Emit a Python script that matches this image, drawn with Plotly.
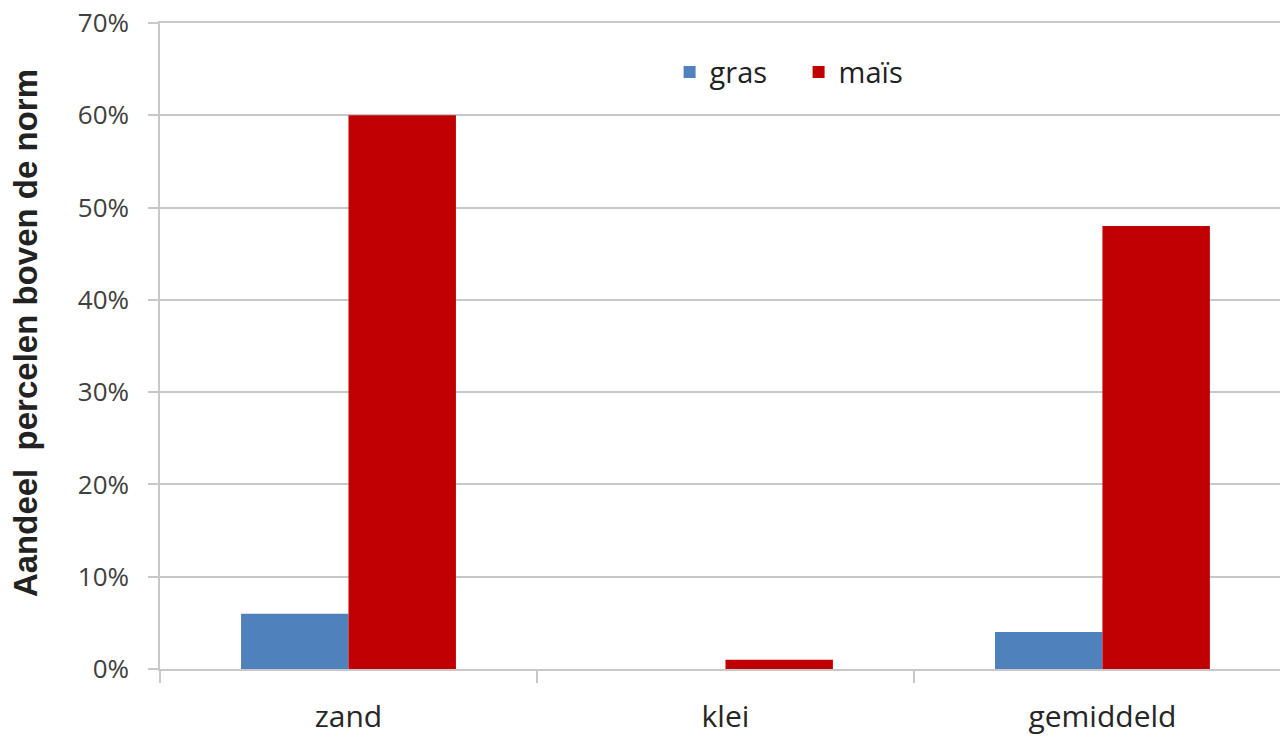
import plotly.graph_objects as go

categories = ["zand", "klei", "gemiddeld"]
gras = [0.06, 0.0, 0.04]
mais = [0.60, 0.01, 0.48]
y_ticks = [0, 0.1, 0.2, 0.3, 0.4, 0.5, 0.6, 0.7]

font_family = "Open Sans, Lato, sans-serif"

fig = go.Figure()
fig.add_trace(go.Bar(name="gras", x=categories, y=gras, marker_color="#4F81BD", marker_line_width=0))
fig.add_trace(go.Bar(name="maïs", x=categories, y=mais, marker_color="#C00000", marker_line_width=0))

fig.update_layout(
    width=1280, height=736,
    margin=dict(l=160, r=0, t=23, b=67, autoexpand=False),
    paper_bgcolor="white", plot_bgcolor="white",
    barmode="group", bargap=0.43, bargroupgap=0,
    font=dict(family=font_family, color="#404040"),
    legend=dict(orientation="h", x=0.455, y=0.924, xanchor="left", yanchor="middle",
                font=dict(size=29, color="#222222"), bgcolor="rgba(0,0,0,0)",
                itemwidth=30, traceorder="normal", entrywidth=84),
    xaxis=dict(range=[-0.5, 2.471], showline=True, linecolor="#c8c8c8", linewidth=1.5,
               mirror=True, automargin=False,
               ticks="outside", tickson="boundaries", ticklen=12, tickcolor="#c8c8c8", tickwidth=1.5,
               tickfont=dict(size=30, color="#262626"), showgrid=False, ticklabelstandoff=20),
    yaxis=dict(range=[0, 0.7], tickvals=y_ticks, tickformat=".0%", showgrid=True,
               gridcolor="#c8c8c8", gridwidth=1.5, showline=True, linecolor="#c8c8c8", linewidth=1.5,
               ticks="outside", ticklen=10, tickcolor="#c8c8c8", tickwidth=1.5, automargin=False,
               tickfont=dict(size=26, color="#404040"), zeroline=False, ticklabelstandoff=14,
               ticklabeloverflow="allow"),
    annotations=[dict(text="<b>Aandeel  percelen boven de norm</b>", textangle=-90,
                      xref="paper", yref="paper", x=-0.1205, y=0.52, showarrow=False,
                      xanchor="center", yanchor="middle",
                      font=dict(size=33, color="#222222", family="Liberation Sans, Arial, sans-serif"))],
)

fig.write_html("out.html", config={"displayModeBar": False},
               post_script="document.body.style.margin='0';")
